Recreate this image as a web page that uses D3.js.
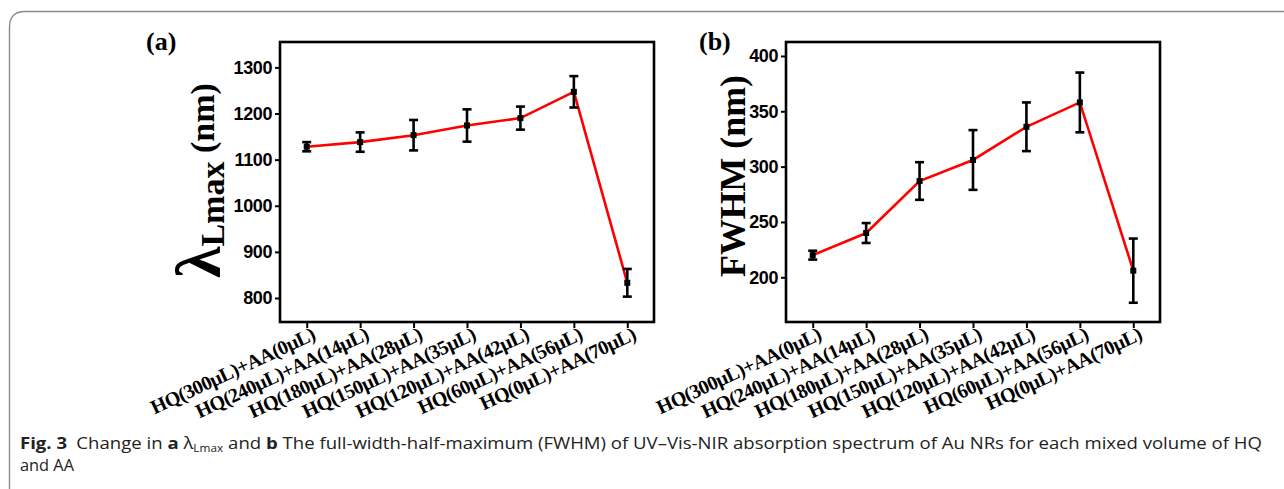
<!DOCTYPE html>
<html>
<head>
<meta charset="utf-8">
<script src="https://cdn.jsdelivr.net/npm/d3@7"></script>
<style>
  html, body { margin: 0; padding: 0; background: #fff; }
  svg { display: block; }
</style>
</head>
<body>
<svg id="chart" width="1284" height="489"></svg>
<script>
// ---------- data ----------
const categories = [
  "HQ(300μL)+AA(0μL)",
  "HQ(240μL)+AA(14μL)",
  "HQ(180μL)+AA(28μL)",
  "HQ(150μL)+AA(35μL)",
  "HQ(120μL)+AA(42μL)",
  "HQ(60μL)+AA(56μL)",
  "HQ(0μL)+AA(70μL)"
];
const lambdaValues = [1128, 1138, 1153, 1174, 1190, 1247, 833];
const lambdaErrors = [10, 21, 33, 35, 25, 34, 30];
const fwhmValues   = [220, 240, 287, 306, 336, 358, 206];
const fwhmErrors   = [4, 9, 17, 27, 22, 27, 29];
const lambdaTicks = [800, 900, 1000, 1100, 1200, 1300];
const fwhmTicks   = [200, 250, 300, 350, 400];

// ---------- drawing ----------
const svg = d3.select("#chart");

// outer rounded box (top + left borders)
svg.append("path")
  .attr("d", "M9.5,489 L9.5,27 Q9.5,11.5 25,11.5 L1284,11.5")
  .attr("fill", "none").attr("stroke", "#8c8c8c").attr("stroke-width", 1.4);

const tickFont = "'Liberation Sans', Arial, sans-serif";
const serif = "'Liberation Serif', 'Times New Roman', serif";

function panel(opts) {
  const {x0, x1, y0, y1, domain, ticks, values, errors, letter, letterX} = opts;
  const g = svg.append("g");
  const x = d3.scalePoint().domain(categories).range([x0, x1]).padding(0.5);
  const y = d3.scaleLinear().domain(domain).range([y1, y0]);

  // y axis ticks
  const yAxis = d3.axisLeft(y).tickValues(ticks).tickSize(5).tickPadding(3).tickFormat(d3.format("d"));
  const ya = g.append("g").attr("transform", `translate(${x0},0)`).call(yAxis);
  ya.select(".domain").remove();
  ya.selectAll("line").attr("stroke", "#000").attr("stroke-width", 2);
  ya.selectAll("text").attr("font-family", tickFont).attr("font-weight", "bold")
    .attr("font-size", 18).attr("fill", "#000").style("letter-spacing", "-0.4px");

  // x axis ticks
  const xAxis = d3.axisBottom(x).tickSize(6).tickFormat("");
  const xa = g.append("g").attr("transform", `translate(0,${y1})`).call(xAxis);
  xa.select(".domain").remove();
  xa.selectAll("line").attr("stroke", "#000").attr("stroke-width", 2);

  // x labels rotated
  g.selectAll("text.xl").data(categories).enter().append("text")
    .attr("class", "xl")
    .attr("transform", d => `translate(${x(d) + 10},${y1 + 17}) rotate(-25)`)
    .attr("text-anchor", "end")
    .attr("font-family", serif).attr("font-weight", "bold")
    .attr("font-size", 20).attr("fill", "#000")
    .style("letter-spacing", "-0.5px")
    .text(d => d);

  // frame
  g.append("rect").attr("x", x0).attr("y", y0).attr("width", x1 - x0).attr("height", y1 - y0)
    .attr("fill", "none").attr("stroke", "#000").attr("stroke-width", 2.6);

  const pts = categories.map((c, i) => ({c, v: values[i], e: errors[i]}));

  // line
  g.append("path").datum(pts)
    .attr("d", d3.line().x(d => x(d.c)).y(d => y(d.v)))
    .attr("fill", "none").attr("stroke", "#ff0000").attr("stroke-width", 2.6);

  // error bars
  const eb = g.selectAll("g.eb").data(pts).enter().append("g").attr("class", "eb");
  eb.append("line").attr("x1", d => x(d.c)).attr("x2", d => x(d.c))
    .attr("y1", d => y(d.v + d.e)).attr("y2", d => y(d.v - d.e))
    .attr("stroke", "#000").attr("stroke-width", 2.6);
  [1, -1].forEach(s => {
    eb.append("line").attr("x1", d => x(d.c) - 4.5).attr("x2", d => x(d.c) + 4.5)
      .attr("y1", d => y(d.v + s * d.e)).attr("y2", d => y(d.v + s * d.e))
      .attr("stroke", "#000").attr("stroke-width", 2.6);
  });
  // markers
  eb.append("rect").attr("x", d => x(d.c) - 3).attr("y", d => y(d.v) - 3)
    .attr("width", 6).attr("height", 6).attr("fill", "#000");

  // panel letter
  svg.append("text").attr("x", letterX).attr("y", 50)
    .attr("font-family", serif).attr("font-weight", "bold").attr("font-size", 26)
    .attr("fill", "#000").text(letter);
  return g;
}

panel({x0: 280, x1: 654, y0: 42, y1: 322, domain: [748, 1355], ticks: lambdaTicks,
       values: lambdaValues, errors: lambdaErrors, letter: "(a)", letterX: 146});
panel({x0: 786, x1: 1160, y0: 42, y1: 322, domain: [159.6, 412.6], ticks: fwhmTicks,
       values: fwhmValues, errors: fwhmErrors, letter: "(b)", letterX: 699});

// y titles
const ta = svg.append("text")
  .attr("transform", "translate(220,278) rotate(-90)")
  .attr("font-family", serif).attr("font-weight", "bold").attr("fill", "#000");
ta.append("tspan").attr("font-size", 64).text("λ");
ta.append("tspan").attr("font-size", 34).attr("dy", 4).text("Lmax");
ta.append("tspan").attr("font-size", 34).attr("dy", -10).text(" (nm)");

svg.append("text")
  .attr("transform", "translate(745,277) rotate(-90)")
  .attr("font-family", serif).attr("font-weight", "bold").attr("font-size", 36)
  .attr("fill", "#000").attr("textLength", 202).attr("lengthAdjust", "spacingAndGlyphs")
  .text("FWHM (nm)");

// caption
const capFont = "'Open Sans', 'Noto Sans', sans-serif";
const cap = svg.append("text").attr("x", 20).attr("y", 449)
  .attr("font-family", capFont).attr("font-size", 16.5).attr("fill", "#222")
  .attr("textLength", 1242).attr("lengthAdjust", "spacingAndGlyphs");
cap.append("tspan").attr("font-weight", "bold").text("Fig. 3");
cap.append("tspan").text("\u2002Change in ");
cap.append("tspan").attr("font-weight", "bold").text("a");
cap.append("tspan").text(" λ");
cap.append("tspan").attr("font-size", 10.5).attr("dy", 3).text("Lmax");
cap.append("tspan").attr("dy", -3).text(" and ");
cap.append("tspan").attr("font-weight", "bold").text("b");
cap.append("tspan").text(" The full-width-half-maximum (FWHM) of UV–Vis-NIR absorption spectrum of Au NRs for each mixed volume of HQ");

svg.append("text").attr("x", 20).attr("y", 471)
  .attr("font-family", capFont).attr("font-size", 16.5).attr("fill", "#222")
  .attr("textLength", 54).attr("lengthAdjust", "spacingAndGlyphs")
  .text("and AA");
</script>
</body>
</html>
